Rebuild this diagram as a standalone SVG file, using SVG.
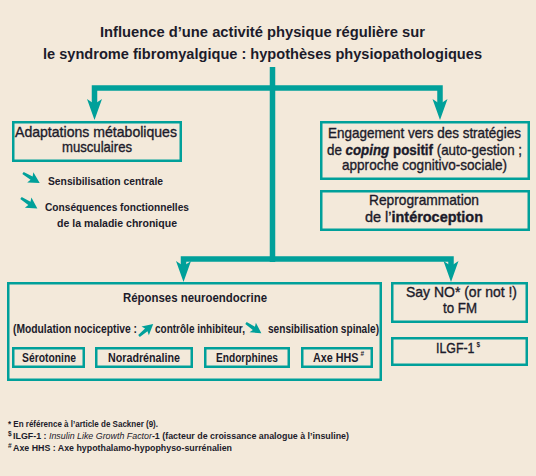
<svg xmlns="http://www.w3.org/2000/svg" width="536" height="476" viewBox="0 0 536 476">
<style>
text{font-family:"Liberation Sans","DejaVu Sans",Arial,sans-serif;fill:#1c1b2a}
.t{font-size:15px;font-weight:bold}
.b{font-size:14.5px;stroke:#1c1b2a;stroke-width:0.35}
.s{font-size:11.5px;font-weight:bold}
.m{font-size:12px;font-weight:bold}
.f{font-size:9.5px;font-weight:bold}
.sup{font-size:6.5px;font-weight:bold}
.box{fill:none;stroke:#00a09a;stroke-width:2.5}
.con{fill:none;stroke:#00a09a;stroke-width:5.5;stroke-linejoin:miter}
.ah{fill:#00a09a}
</style>
<defs>
<path id="head" d="M0,0 L-7.5,-21 L0,-16 L7.5,-21 Z"/>
<path id="sa" d="M0,-1.3 L10,-2 L8.5,-6 L19.5,0 L8.5,6 L10,2 L0,1.3 Z"/>
</defs>
<rect width="536" height="476" fill="#f3e9da"/>
<g id="title">
<text class="t" x="262.5" y="37" text-anchor="middle" textLength="325" lengthAdjust="spacingAndGlyphs">Influence d’une activité physique régulière sur</text>
<text class="t" x="262.5" y="59" text-anchor="middle" textLength="439" lengthAdjust="spacingAndGlyphs">le syndrome fibromyalgique : hypothèses physiopathologiques</text>
</g>
<g id="connectors">
<path class="con" d="M272.5,67 V262"/>
<path class="con" d="M94.5,104 V88 H440 V104"/>
<path class="con" d="M183.5,266 V259 H451 V266"/>
<use href="#head" class="ah" transform="translate(94.5,120)"/>
<use href="#head" class="ah" transform="translate(440,120)"/>
<use href="#head" class="ah" transform="translate(183.5,282)"/>
<use href="#head" class="ah" transform="translate(451,282)"/>
</g>
<g id="adaptations">
<rect class="box" x="13.25" y="122.25" width="167.5" height="38.5"/>
<text class="b" x="96" y="137" text-anchor="middle" textLength="162" lengthAdjust="spacingAndGlyphs">Adaptations métaboliques</text>
<text class="b" x="97" y="152" text-anchor="middle" textLength="70" lengthAdjust="spacingAndGlyphs">musculaires</text>
</g>
<g id="sensibilisation">
<use href="#sa" class="ah" transform="translate(23,173) rotate(31)"/>
<text class="s" x="48" y="185" textLength="115" lengthAdjust="spacingAndGlyphs">Sensibilisation centrale</text>
</g>
<g id="consequences">
<use href="#sa" class="ah" transform="translate(21,198) rotate(33)"/>
<text class="s" x="45" y="211" textLength="144" lengthAdjust="spacingAndGlyphs">Conséquences fonctionnelles</text>
<text class="s" x="117" y="227" text-anchor="middle" textLength="120" lengthAdjust="spacingAndGlyphs">de la maladie chronique</text>
</g>
<g id="engagement">
<rect class="box" x="321.25" y="122.25" width="207.5" height="56.5"/>
<text class="b" x="424.5" y="138" text-anchor="middle" textLength="193" lengthAdjust="spacingAndGlyphs">Engagement vers des stratégies</text>
<text class="b" x="424.5" y="155" text-anchor="middle" textLength="195" lengthAdjust="spacingAndGlyphs">de <tspan font-weight="bold" font-style="italic">coping</tspan> <tspan font-weight="bold">positif</tspan> (auto-gestion ;</text>
<text class="b" x="424.5" y="170" text-anchor="middle" textLength="165" lengthAdjust="spacingAndGlyphs">approche cognitivo-sociale)</text>
</g>
<g id="reprogrammation">
<rect class="box" x="321.25" y="191.25" width="207.5" height="38.5"/>
<text class="b" x="424" y="205" text-anchor="middle" textLength="110" lengthAdjust="spacingAndGlyphs">Reprogrammation</text>
<text class="b" x="424" y="222" text-anchor="middle" textLength="118" lengthAdjust="spacingAndGlyphs">de l’<tspan font-weight="bold">intéroception</tspan></text>
</g>
<g id="reponses">
<rect class="box" x="8.25" y="283.25" width="372.5" height="96.5"/>
<text class="m" x="195" y="302" text-anchor="middle" textLength="144" lengthAdjust="spacingAndGlyphs">Réponses neuroendocrine</text>
<text class="m" x="13" y="333" textLength="124" lengthAdjust="spacingAndGlyphs">(Modulation nociceptive :</text>
<use href="#sa" class="ah" transform="translate(139,336) rotate(-40) scale(0.95)"/>
<text class="m" x="155" y="333" textLength="90" lengthAdjust="spacingAndGlyphs">contrôle inhibiteur,</text>
<use href="#sa" class="ah" transform="translate(246,323) rotate(34) scale(0.95)"/>
<text class="m" x="268" y="333" textLength="111" lengthAdjust="spacingAndGlyphs">sensibilisation spinale)</text>
</g>
<g id="serotonine">
<rect class="box" x="13.25" y="348.25" width="70.5" height="18.5"/>
<text class="m" x="49" y="361.5" text-anchor="middle" textLength="54" lengthAdjust="spacingAndGlyphs">Sérotonine</text>
</g>
<g id="noradrenaline">
<rect class="box" x="96.25" y="348.25" width="95.5" height="18.5"/>
<text class="m" x="144" y="361.5" text-anchor="middle" textLength="72" lengthAdjust="spacingAndGlyphs">Noradrénaline</text>
</g>
<g id="endorphines">
<rect class="box" x="205.25" y="348.25" width="83.5" height="18.5"/>
<text class="m" x="247" y="361.5" text-anchor="middle" textLength="62" lengthAdjust="spacingAndGlyphs">Endorphines</text>
</g>
<g id="axehhs">
<rect class="box" x="302.25" y="348.25" width="69.5" height="18.5"/>
<text class="m" x="313" y="361.5" textLength="45.5" lengthAdjust="spacingAndGlyphs">Axe HHS</text>
<text class="sup" x="360.5" y="355.5">#</text>
</g>
<g id="sayno">
<rect class="box" x="392.25" y="283.25" width="134.5" height="38.5"/>
<text class="b" x="461.5" y="297" text-anchor="middle" textLength="111" lengthAdjust="spacingAndGlyphs">Say NO* (or not !)</text>
<text class="b" x="460" y="313" text-anchor="middle" textLength="34" lengthAdjust="spacingAndGlyphs">to FM</text>
</g>
<g id="ilgf">
<rect class="box" x="392.25" y="338.25" width="134.5" height="26.5"/>
<text class="b" x="436" y="353" textLength="38.5" lengthAdjust="spacingAndGlyphs">ILGF-1</text>
<text class="sup" x="476.5" y="346.5" font-size="7">$</text>
</g>
<g id="footnotes">
<text class="f" x="8" y="427" textLength="150" lengthAdjust="spacingAndGlyphs">* En référence à l’article de Sackner (9).</text>
<text class="sup" x="8" y="435.5">$</text>
<text class="f" x="13" y="439" textLength="336" lengthAdjust="spacingAndGlyphs">ILGF-1 : <tspan font-style="italic" font-weight="normal">Insulin Like Growth Factor</tspan>-1 (facteur de croissance analogue à l’insuline)</text>
<text class="sup" x="8" y="447.5">#</text>
<text class="f" x="13" y="451" textLength="219" lengthAdjust="spacingAndGlyphs">Axe HHS : Axe hypothalamo-hypophyso-surrénalien</text>
</g>
</svg>
